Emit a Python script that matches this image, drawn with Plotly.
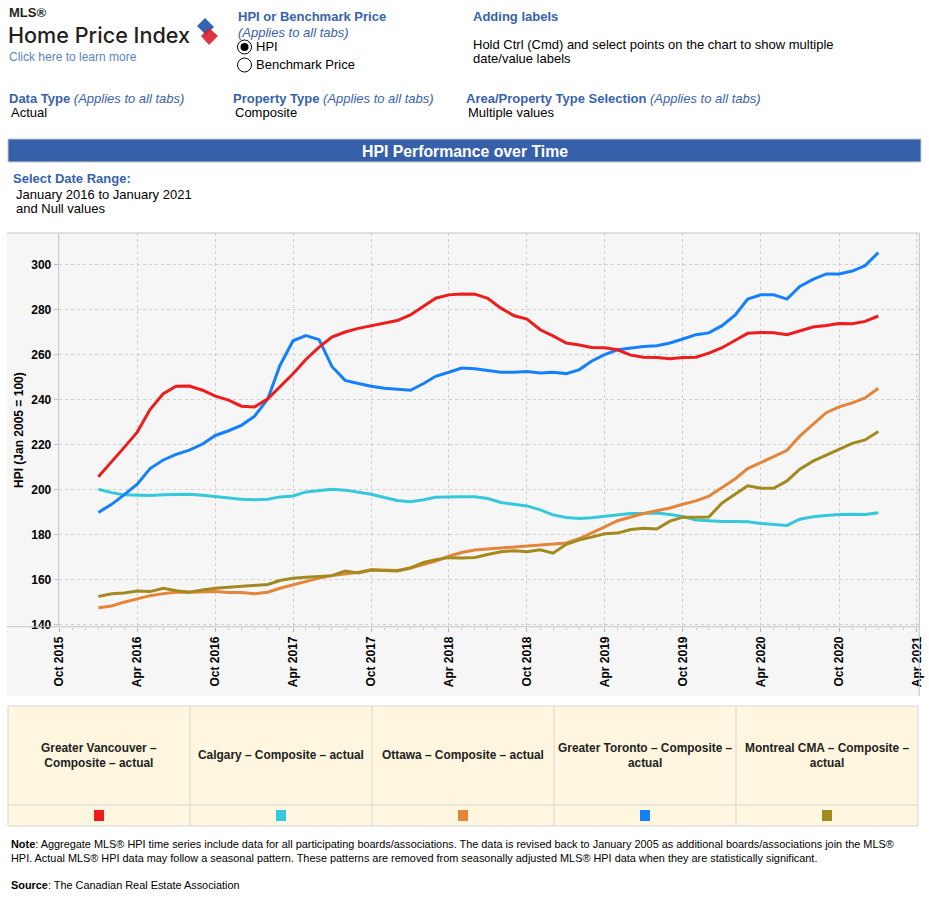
import plotly.graph_objects as go
import pandas as pd

# ---------------- data ----------------
months = pd.date_range("2016-01-01", "2021-01-01", freq="MS")

series_names = [
    "Greater Vancouver – Composite – actual",
    "Calgary – Composite – actual",
    "Ottawa – Composite – actual",
    "Greater Toronto – Composite – actual",
    "Montreal CMA – Composite – actual",
]
legend_labels = [
    "Greater Vancouver –<br>Composite – actual",
    "Calgary – Composite – actual",
    "Ottawa – Composite – actual",
    "Greater Toronto – Composite –<br>actual",
    "Montreal CMA – Composite –<br>actual",
]
series_colors = ["#ee1c1c", "#35c8dc", "#e4853a", "#1480fb", "#a38a1e"]

vancouver = [205.9, 212.4, 218.8, 225.7, 235.7, 242.8, 246.1, 246.2, 244.3, 241.7,
             239.9, 237.2, 236.9, 240.5, 245.6, 251.6, 258.0, 263.5, 267.9, 270.2,
             271.8, 273.0, 274.2, 275.3, 277.8, 281.5, 285.2, 286.7, 287.1, 287.0,
             285.2, 280.8, 277.4, 275.9, 271.2, 268.5, 265.3, 264.4, 263.3, 263.2,
             262.3, 259.9, 259.0, 258.9, 258.3, 258.9, 259.0, 260.8, 263.2, 266.5,
             269.6, 270.0, 269.9, 269.0, 270.6, 272.4, 273.1, 274.0, 273.9, 274.9,
             277.3]
calgary = [200.3, 198.8, 197.8, 197.6, 197.5, 197.8, 197.8, 198.1, 197.6, 197.0,
           196.2, 195.9, 195.6, 195.9, 196.9, 197.3, 199.1, 199.7, 200.3, 199.9,
           199.1, 198.1, 196.6, 195.3, 194.8, 195.6, 196.7, 197.0, 197.0, 197.0,
           196.2, 194.4, 193.5, 192.9, 191.1, 188.9, 187.7, 187.3, 187.6, 188.3,
           189.1, 189.5, 189.5, 189.7, 189.1, 188.2, 186.6, 186.2, 186.0, 186.0,
           185.8, 185.1, 184.6, 184.2, 187.0, 188.1, 188.6, 189.1, 189.2, 189.1,
           189.8]
ottawa = [147.6, 148.4, 150.1, 151.6, 153.0, 153.9, 154.5, 154.5, 154.8, 154.8,
          154.4, 154.4, 153.8, 154.5, 156.3, 157.8, 159.4, 160.8, 161.9, 162.6,
          163.4, 164.5, 164.5, 164.2, 165.3, 166.9, 168.4, 170.5, 172.2, 173.3,
          173.7, 174.3, 174.8, 175.2, 175.3, 175.9, 176.4, 178.4, 180.7, 183.6,
          186.3, 188.1, 189.5, 190.7, 192.0, 193.6, 195.1, 197.2, 201.2, 205.0,
          209.5, 212.1, 214.8, 217.6, 223.9, 229.1, 234.3, 236.9, 238.7, 240.9,
          245.2]
toronto = [190.0, 193.6, 197.8, 202.5, 209.5, 213.3, 215.8, 217.7, 220.4, 224.2,
           226.3, 228.7, 232.8, 240.5, 255.2, 266.3, 268.6, 266.8, 254.9, 248.7,
           247.3, 246.1, 245.2, 244.8, 244.3, 247.3, 250.5, 252.3, 254.2, 253.9,
           253.0, 252.3, 252.3, 252.6, 252.0, 252.3, 251.7, 253.5, 257.2, 260.1,
           262.3, 263.1, 263.8, 264.1, 265.3, 267.1, 269.0, 269.8, 273.0, 277.8,
           284.8, 286.7, 286.7, 284.8, 290.4, 293.6, 296.0, 296.0, 297.3, 299.7,
           305.5]
montreal = [152.6, 153.8, 154.2, 155.1, 154.8, 156.3, 155.2, 154.5, 155.5, 156.3,
            156.7, 157.2, 157.5, 158.0, 159.7, 160.7, 161.2, 161.5, 161.9, 163.9,
            163.1, 164.4, 164.1, 164.0, 165.3, 167.8, 169.0, 169.9, 169.7, 170.0,
            171.3, 172.5, 173.0, 172.5, 173.4, 171.9, 175.8, 177.8, 179.0, 180.5,
            180.8, 182.4, 183.0, 182.6, 186.1, 187.9, 187.9, 188.0, 194.2, 198.0,
            201.8, 200.7, 200.7, 204.0, 209.2, 212.8, 215.4, 218.0, 220.7, 222.2,
            226.0]
series_values = [vancouver, calgary, ottawa, toronto, montreal]
# draw order so Toronto (blue) and Vancouver (red) sit on top
draw_order = [1, 2, 4, 3, 0]

y_ticks = [140, 160, 180, 200, 220, 240, 260, 280, 300]

# ---------------- layout helpers ----------------
W, H = 929, 899
FONT = "Arial, Liberation Sans, sans-serif"
BLUE_TXT = "#3862ad"


def px(x):
    return x / W


def py(y):
    return 1 - y / H


fig = go.Figure()
for k in draw_order:
    fig.add_trace(go.Scatter(
        x=months, y=series_values[k], mode="lines", name=series_names[k],
        line=dict(color=series_colors[k], width=3), showlegend=False,
        hovertemplate="%{x|%b %Y}<br>%{y:.1f}<extra>" + series_names[k] + "</extra>"))

# plot area pixels
PL, PR, PT, PB = 58.7, 919.3, 233.0, 626.7

shapes = []
annots = []

# grey chart background panel
shapes.append(dict(type="rect", xref="paper", yref="paper", x0=px(7), x1=px(919.5),
                   y0=py(696), y1=py(233), fillcolor="#f6f6f6", line=dict(width=0),
                   layer="below"))
# top line, bottom axis line, left axis line, right border
for (x0, y0, x1, y1) in [(7, 233, 919.5, 233), (7, PB, 919.5, PB), (PL, 233, PL, PB),
                         (919.3, 233, 919.3, 696)]:
    shapes.append(dict(type="line", xref="paper", yref="paper", x0=px(x0), x1=px(x1),
                       y0=py(y0), y1=py(y1), line=dict(color="#c4c4c4", width=1)))

# title bar
shapes.append(dict(type="rect", xref="paper", yref="paper", x0=px(8), x1=px(921),
                   y0=py(162), y1=py(139), fillcolor="#3760aa",
                   line=dict(color="#c9c9c9", width=1)))
annots.append(dict(text="<b>HPI Performance over Time</b>", x=px(465), y=py(151),
                   xanchor="center", yanchor="middle",
                   font=dict(size=15.8, color="white", family=FONT)))

# legend table
T_TOP, T_MID, T_BOT = 706, 805, 826
col_edges = [8, 190, 372, 554, 736, 918]
shapes.append(dict(type="rect", xref="paper", yref="paper", x0=px(8), x1=px(918),
                   y0=py(T_BOT), y1=py(T_TOP), fillcolor="#fef6de",
                   line=dict(color="#d6d6d6", width=1), layer="below"))
shapes.append(dict(type="line", xref="paper", yref="paper", x0=px(8), x1=px(918),
                   y0=py(T_MID), y1=py(T_MID), line=dict(color="#d6d6d6", width=1)))
for xe in col_edges[1:-1]:
    shapes.append(dict(type="line", xref="paper", yref="paper", x0=px(xe), x1=px(xe),
                       y0=py(T_BOT), y1=py(T_TOP), line=dict(color="#d6d6d6", width=1)))
for k in range(5):
    cx = (col_edges[k] + col_edges[k + 1]) / 2
    annots.append(dict(text="<b>" + legend_labels[k] + "</b>", x=px(cx), y=py(755),
                       xanchor="center", yanchor="middle", align="center",
                       font=dict(size=11.9, color="#222222", family=FONT)))
    shapes.append(dict(type="rect", xref="paper", yref="paper", x0=px(cx - 5),
                       x1=px(cx + 5), y0=py(821), y1=py(810),
                       fillcolor=series_colors[k], line=dict(width=0)))


# header texts
def txt(t, x, y, size=12, color="#000000", anchor="left", **kw):
    annots.append(dict(text=t, x=px(x), y=py(y), xanchor=anchor, yanchor="middle",
                       font=dict(size=size, color=color, family=FONT), **kw))


txt("<b>MLS®</b>", 7, 13, size=13, color="#231f20")
annots.append(dict(text="Home Price Index", x=px(6), y=py(35), xanchor="left",
                   yanchor="middle",
                   font=dict(size=21.6, color="#231f20", family="Inter, Arial", weight=500)))
txt("Click here to learn more", 7, 57, size=12, color="#5a82c8")
# logo
shapes.append(dict(type="path", xref="paper", yref="paper",
                   path=f"M {px(197)},{py(26)} L {px(205)},{py(18)} L {px(214)},{py(27)} L {px(206)},{py(35)} Z",
                   fillcolor="#3266b4", line=dict(width=0)))
shapes.append(dict(type="path", xref="paper", yref="paper",
                   path=f"M {px(201)},{py(36)} L {px(209)},{py(28)} L {px(218)},{py(36)} L {px(209)},{py(45)} Z",
                   fillcolor="#d9202f", opacity=0.9, line=dict(width=0)))

txt("<b>HPI or Benchmark Price</b>", 236, 16, size=13, color=BLUE_TXT)
txt("<i>(Applies to all tabs)</i>", 236, 32, size=13, color=BLUE_TXT)
shapes.append(dict(type="circle", xref="paper", yref="paper", x0=px(237.5), x1=px(251.5),
                   y0=py(54), y1=py(40), fillcolor="white", line=dict(color="#000", width=1)))
shapes.append(dict(type="circle", xref="paper", yref="paper", x0=px(240.5), x1=px(248.5),
                   y0=py(51), y1=py(43), fillcolor="#000", line=dict(width=0)))
shapes.append(dict(type="circle", xref="paper", yref="paper", x0=px(237.5), x1=px(251.5),
                   y0=py(72), y1=py(58), fillcolor="white", line=dict(color="#000", width=1)))
txt("HPI", 254, 47, size=13)
txt("Benchmark Price", 254, 65, size=13)

txt("<b>Adding labels</b>", 471, 16, size=13, color=BLUE_TXT)
txt("Hold Ctrl (Cmd) and select points on the chart to show multiple", 471, 44, size=13)
txt("date/value labels", 471, 59, size=13)

txt("<b>Data Type</b> <i>(Applies to all tabs)</i>", 7, 98, size=13, color=BLUE_TXT)
txt("Actual", 9, 113, size=13)
txt("<b>Property Type</b> <i>(Applies to all tabs)</i>", 231, 98, size=13, color=BLUE_TXT)
txt("Composite", 233, 113, size=13)
txt("<b>Area/Property Type Selection</b> <i>(Applies to all tabs)</i>", 464, 98, size=13,
    color=BLUE_TXT)
txt("Multiple values", 466, 113, size=13)

txt("<b>Select Date Range:</b>", 11, 179, size=13, color=BLUE_TXT)
txt("January 2016 to January 2021", 14, 194, size=13)
txt("and Null values", 14, 209, size=13)

# y axis title
annots.append(dict(text="<b>HPI (Jan 2005 = 100)</b>", x=px(19), y=py(430), textangle=-90,
                   xanchor="center", yanchor="middle",
                   font=dict(size=12, color="#000", family=FONT)))

# footer
txt("<b>Note</b>: Aggregate MLS® HPI time series include data for all participating "
    "boards/associations. The data is revised back to January 2005 as additional "
    "boards/associations join the MLS®", 9, 844, size=10.9)
txt("HPI. Actual MLS® HPI data may follow a seasonal pattern. These patterns are removed "
    "from seasonally adjusted MLS® HPI data when they are statistically significant.",
    9, 858, size=10.9)
txt("<b>Source</b>: The Canadian Real Estate Association", 9, 885, size=10.9)

for a in annots:
    a.setdefault("showarrow", False)
    a.setdefault("xref", "paper")
    a.setdefault("yref", "paper")

fig.update_layout(
    width=W, height=H, autosize=False,
    margin=dict(l=0, r=0, t=0, b=0, pad=0),
    paper_bgcolor="white", plot_bgcolor="#f6f6f6",
    font=dict(family=FONT, color="#000"),
    shapes=shapes, annotations=annots, showlegend=False,
    xaxis=dict(
        domain=[px(PL), px(PR)], type="date",
        range=["2015-09-30", "2021-04-07"],
        tick0="2015-10-01", dtick="M6", tickformat="%b %Y", tickangle=-90,
        tickfont=dict(size=12, family=FONT, color="#000", weight="bold"),
        ticks="outside", ticklen=4, tickcolor="#b5b5b5",
        minor=dict(dtick="M1", ticks="outside", ticklen=2, tickcolor="#c8c8c8",
                   showgrid=False),
        showgrid=True, gridcolor="#cfcfcf", griddash="dot", gridwidth=1,
        zeroline=False, showline=False, automargin=False,
    ),
    yaxis=dict(
        domain=[py(PB), py(PT)], range=[139.2, 314.2],
        tickvals=y_ticks, ticktext=[str(v) for v in y_ticks],
        tickfont=dict(size=12, family=FONT, color="#000", weight="bold"),
        ticks="outside", ticklen=4, tickcolor="#c4c4c4",
        showgrid=True, gridcolor="#cfcfcf", griddash="dot", gridwidth=1,
        zeroline=False, showline=False, automargin=False,
    ),
)

fig.write_html("out.html", config={"displayModeBar": False},
               post_script="document.body.style.margin='0';document.body.style.padding='0';")
